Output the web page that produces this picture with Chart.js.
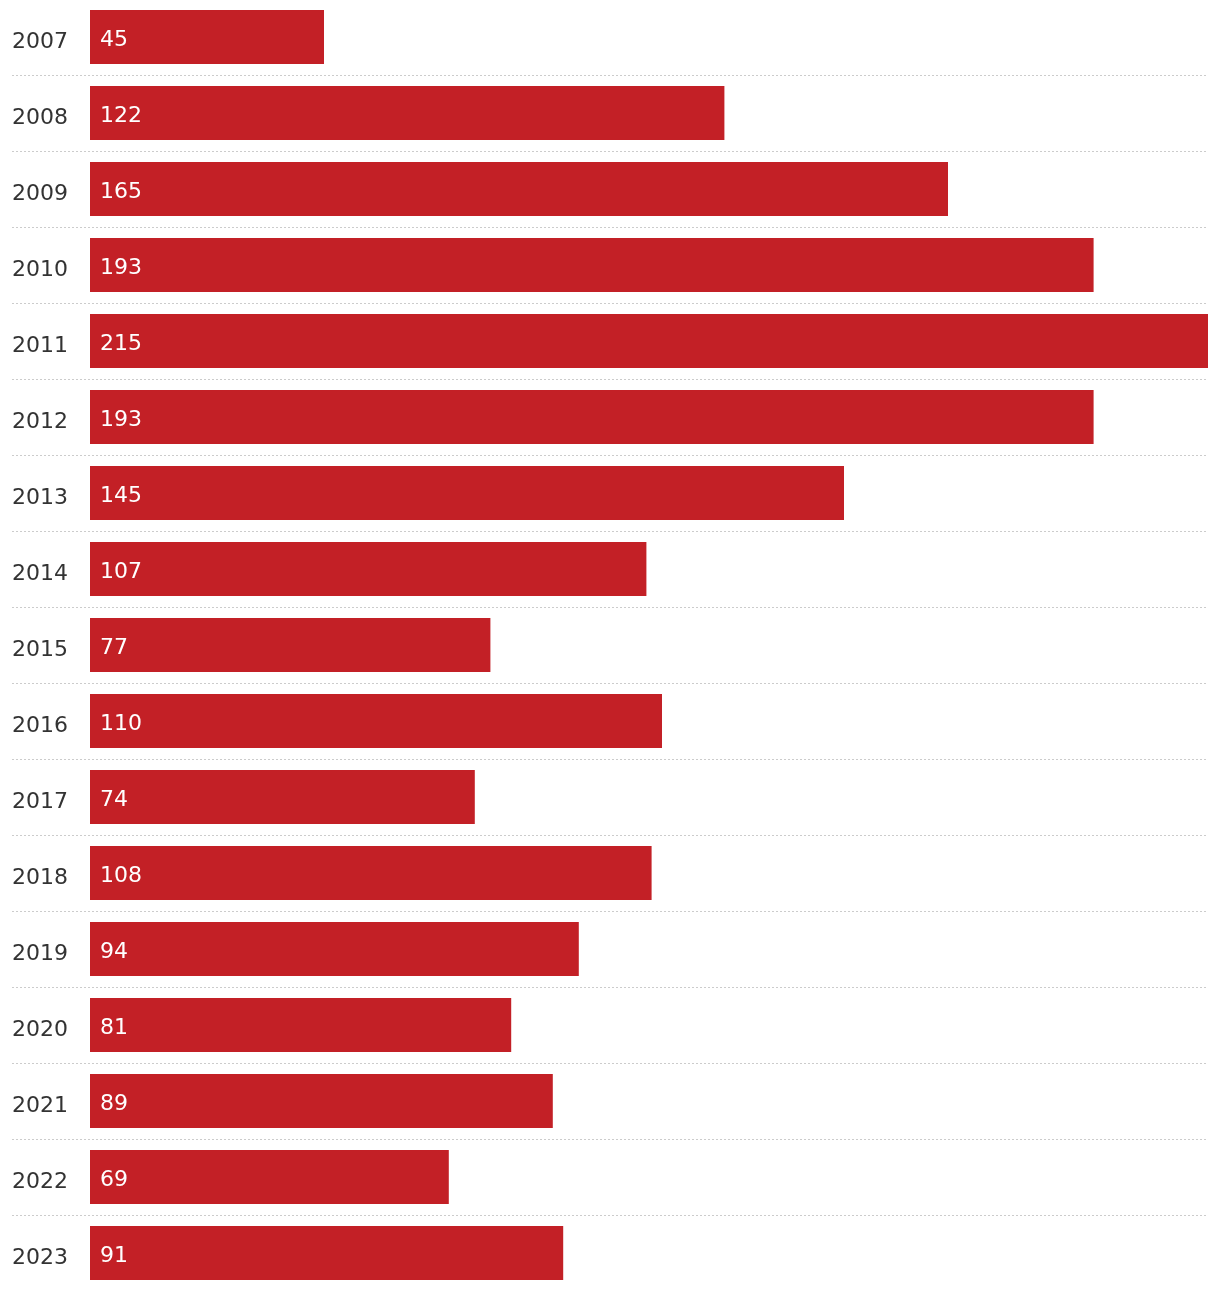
<!DOCTYPE html>
<html>
<head>
<meta charset="utf-8">
<script src="https://cdn.jsdelivr.net/npm/chart.js@4"></script>
<style>
  html, body { margin: 0; padding: 0; background: #fff; overflow: hidden; }
  #wrap { position: absolute; left: 0; top: -1px; width: 1220px; height: 1292px; }
</style>
</head>
<body>
<div id="wrap"><canvas id="c"></canvas></div>
<script>
const years = ["2007","2008","2009","2010","2011","2012","2013","2014","2015","2016","2017","2018","2019","2020","2021","2022","2023"];
const values = [45,122,165,193,215,193,145,107,77,110,74,108,94,81,89,69,91];
const barColor = "#C32026";
const fontFamily = "'DejaVu Sans', sans-serif";

const dividers = {
  id: 'dividers',
  beforeDatasetsDraw(chart) {
    const y = chart.scales.y, ctx = chart.ctx, area = chart.chartArea;
    ctx.save();
    ctx.strokeStyle = '#cccccc';
    ctx.lineWidth = 1;
    ctx.setLineDash([2, 2]);
    for (let i = 0; i < years.length - 1; i++) {
      const py = Math.round((y.getPixelForValue(i) + y.getPixelForValue(i + 1)) / 2) + 0.5;
      ctx.beginPath();
      ctx.moveTo(y.left, py);
      ctx.lineTo(area.right, py);
      ctx.stroke();
    }
    ctx.restore();
  }
};

const valueLabels = {
  id: 'valueLabels',
  afterDatasetsDraw(chart) {
    const ctx = chart.ctx;
    const meta = chart.getDatasetMeta(0);
    ctx.save();
    ctx.fillStyle = '#ffffff';
    ctx.font = "22px " + fontFamily;
    ctx.textAlign = 'left';
    ctx.textBaseline = 'middle';
    meta.data.forEach((bar, i) => {
      ctx.fillText(String(values[i]), bar.base + 10, bar.y + 3);
    });
    ctx.restore();
  }
};

new Chart(document.getElementById('c'), {
  type: 'bar',
  data: {
    labels: years,
    datasets: [{
      data: values,
      backgroundColor: barColor,
      borderWidth: 0,
      barPercentage: 54 / 76,
      categoryPercentage: 1.0
    }]
  },
  options: {
    indexAxis: 'y',
    responsive: true,
    maintainAspectRatio: false,
    animation: false,
    layout: { padding: { left: 12, right: 12, top: 0, bottom: 0 } },
    plugins: { legend: { display: false }, tooltip: { enabled: false } },
    scales: {
      x: { display: false, min: 0, max: 215 },
      y: {
        offset: true,
        grid: { display: false },
        border: { display: false },
        ticks: {
          crossAlign: 'far',
          color: '#333333',
          font: { family: fontFamily, size: 22 },
          padding: 0,
          labelOffset: 5
        },
        afterFit(scale) {
          scale.width = 78;
          scale.paddingTop = 0;
          scale.paddingBottom = 0;
        }
      }
    }
  },
  plugins: [dividers, valueLabels]
});
</script>
</body>
</html>
